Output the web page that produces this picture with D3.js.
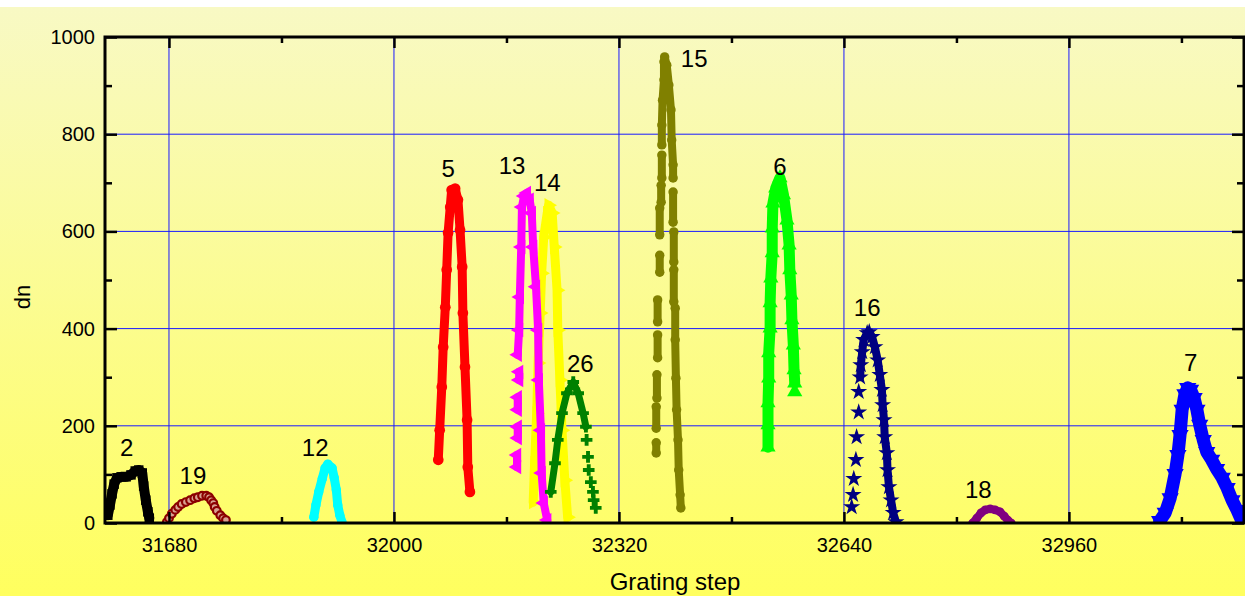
<!DOCTYPE html>
<html>
<head>
<meta charset="utf-8">
<script src="https://cdn.jsdelivr.net/npm/d3@7"></script>
<style>
  body { margin: 0; background: #fff; }
  text { font-family: Arial, "Liberation Sans", sans-serif; }
</style>
</head>
<body>
<svg id="chart"></svg>
<script>
var width = 1245;
var height = 596;

var margin = {top: 37, left: 105, right: 1, bottom: 73};

// peak data: [grating step, dn]
var s2 = [[31593,16],[31596,37],[31599,60],[31602,80],[31606,93],[31612,95],[31619,95],[31626,99],[31632,107],[31637,109],[31642,103],[31644,76],[31647,47],[31650,23],[31652,10]];
var s19 = [[31677,2],[31680,10],[31684,19],[31689,27],[31693,33],[31698,39],[31704,43],[31710,47],[31716,51],[31721,53],[31727,56],[31733,56],[31737,53],[31740,47],[31743,41],[31745,33],[31748,25],[31753,16],[31757,10],[31761,6]];
var s12 = [[31886,12],[31889,37],[31893,64],[31898,91],[31902,113],[31906,121],[31912,113],[31915,93],[31918,68],[31920,37],[31923,16],[31926,2]];
var s5 = [[32063,130],[32065,191],[32068,280],[32070,362],[32073,444],[32075,521],[32077,597],[32080,650],[32082,685],[32087,688],[32091,665],[32094,603],[32097,527],[32098,432],[32101,321],[32104,212],[32105,115],[32108,64]];
var s13 = [[32176,346],[32178,397],[32179,465],[32181,568],[32182,650],[32185,673],[32189,679],[32193,665],[32196,638],[32198,568],[32202,486],[32205,397],[32206,294],[32209,191],[32210,103],[32213,41],[32218,6]];
var s13dash = [[[32178,311],[32178,294]],[[32176,259],[32176,233]],[[32176,198],[32176,175]],[[32175,140],[32175,115]]];
var s14 = [[32198,43],[32200,123],[32203,226],[32205,329],[32208,432],[32210,514],[32213,588],[32218,638],[32220,654],[32225,638],[32228,568],[32232,479],[32233,397],[32236,294],[32239,191],[32243,88],[32247,12]];
var s26 = [[32223,64],[32229,123],[32233,171],[32239,226],[32246,267],[32255,290],[32262,267],[32269,226],[32273,198]];
var s26dots = [[32274,171],[32276,136],[32277,109],[32280,84],[32283,64],[32284,47],[32287,31]];
var s15top = [[32381,778],[32381,819],[32382,870],[32384,912],[32384,949],[32385,959],[32388,942],[32391,901],[32394,850],[32395,788],[32397,737],[32397,710]];
var s15low = [[32400,442],[32400,377],[32401,298],[32402,233],[32404,171],[32405,109],[32407,58],[32408,31]];
var s15bits = [[[32381,757],[32381,710]],[[32380,695],[32380,660]],[[32378,648],[32378,593]],[[32378,551],[32378,516]],[[32375,459],[32375,414]],[[32375,387],[32375,340]],[[32374,305],[32374,257]],[[32373,239],[32373,195]],[[32373,165],[32373,144]],
               [[32397,681],[32397,619]],[[32398,599],[32398,537]],[[32398,521],[32398,455]]];
var s6 = [[32532,156],[32532,202],[32532,247],[32533,298],[32533,350],[32535,401],[32535,453],[32536,504],[32538,556],[32538,607],[32539,658],[32543,689],[32549,710],[32554,675],[32559,623],[32562,572],[32563,521],[32565,469],[32566,418],[32568,366],[32569,315],[32570,288]];
var s6dots = [[32570,270]];
var s16 = [[32663,300],[32664,325],[32666,352],[32668,377],[32673,391],[32676,393],[32680,383],[32684,362],[32688,335],[32691,305],[32694,274],[32695,243],[32697,212],[32698,177],[32701,144],[32702,109],[32704,74],[32707,47],[32710,21],[32714,2]];
var s16dots = [[32661,270],[32661,228],[32658,177],[32657,130],[32654,91],[32653,58],[32651,33]];
var s18 = [[32823,0],[32829,10],[32835,21],[32841,27],[32848,29],[32855,27],[32862,23],[32868,14],[32873,6],[32878,0]];
var s7 = [[33089,4],[33097,21],[33104,51],[33111,101],[33115,140],[33118,181],[33121,233],[33125,265],[33129,278],[33133,274],[33138,257],[33142,233],[33146,202],[33151,171],[33156,146],[33163,130],[33170,111],[33178,93],[33185,72],[33192,47],[33199,27],[33206,4]];

var labelText = ["2","19","12","5","13","14","26","15","6","16","18","7"];
var labelX = [31620,31714,31888,32077,32168,32218,32265,32427,32549,32673,32831,33133];
var labelY = [156,97,156,730,735,700,329,957,733,444,70,331];

var xMajor = [31680, 32000, 32320, 32640, 32960];
var xMinor = [31840, 32160, 32480, 32800, 33120];
var yMajor = [0, 200, 400, 600, 800, 1000];
var yMinor = [100, 300, 500, 700, 900];

var series = [
  {traces: [s2], dots: [], color: "#000000", w: 10, sym: d3.symbolSquare, size: 90, rot: 0},
  {traces: [], dots: s19, color: "#8b0000", w: 0, sym: d3.symbolCircle, size: 46, rot: 0, open: "#d8a090"},
  {traces: [s12], dots: [], color: "#00ffff", w: 9, sym: d3.symbolCircle, size: 70, rot: 0},
  {traces: [s5], dots: [], color: "#ff0000", w: 9, sym: d3.symbolCircle, size: 90, rot: 0},
  {traces: [s14], dots: [], color: "#ffff00", w: 9, sym: d3.symbolTriangle, size: 90, rot: 90},
  {traces: [s13].concat(s13dash), dots: [], color: "#ff00ff", w: 8, sym: d3.symbolTriangle, size: 90, rot: -90},
  {traces: [s26], dots: s26dots, color: "#008000", w: 7, sym: d3.symbolCross, size: 75, rot: 0},
  {traces: [s15top, s15low].concat(s15bits), dots: [], color: "#808000", w: 8, sym: d3.symbolCircle, size: 70, rot: 0},
  {traces: [s6], dots: s6dots, color: "#00ff00", w: 11, sym: d3.symbolTriangle, size: 100, rot: 0},
  {traces: [s16], dots: s16dots, color: "#000080", w: 8, sym: d3.symbolStar, size: 90, rot: 0},
  {traces: [s18], dots: [], color: "#800080", w: 8, sym: d3.symbolCircle, size: 60, rot: 0},
  {traces: [s7], dots: [], color: "#0000ff", w: 13, sym: d3.symbolTriangle, size: 130, rot: 180}
];

var svg = d3.select("#chart").attr("width", width).attr("height", height);

var defs = svg.append("defs");
var grad = defs.append("linearGradient").attr("id", "bg")
  .attr("x1", 0).attr("y1", 0).attr("x2", 0).attr("y2", 1);
grad.append("stop").attr("offset", "0%").attr("stop-color", "#f8f9c4");
grad.append("stop").attr("offset", "100%").attr("stop-color", "#ffff5e");

svg.append("rect").attr("x", 0).attr("y", 7).attr("width", width).attr("height", height - 7)
  .attr("fill", "url(#bg)");

var x = d3.scaleLinear().domain([31589, 33209]).range([margin.left, width - margin.right]);
var y = d3.scaleLinear().domain([0, 1000]).range([height - margin.bottom, margin.top]);

defs.append("clipPath").attr("id", "clip").append("rect")
  .attr("x", margin.left).attr("y", margin.top)
  .attr("width", width - margin.right - margin.left)
  .attr("height", height - margin.bottom - margin.top);

// grid
var grid = svg.append("g").attr("stroke", "#1a1aff").attr("stroke-width", 1);
grid.selectAll("line.gx").data(xMajor).join("line")
  .attr("x1", d => x(d)).attr("x2", d => x(d))
  .attr("y1", y(1000)).attr("y2", y(0));
grid.selectAll("line.gy").data(yMajor.slice(1, -1)).join("line")
  .attr("y1", d => y(d)).attr("y2", d => y(d))
  .attr("x1", x.range()[0]).attr("x2", x.range()[1]);

// peaks
var plot = svg.append("g").attr("clip-path", "url(#clip)");
var line = d3.line().x(d => x(d[0])).y(d => y(d[1]));

series.forEach(function(s) {
  var g = plot.append("g");
  s.traces.forEach(function(tr) {
    g.append("path").datum(tr)
      .attr("d", line)
      .attr("fill", "none")
      .attr("stroke", s.color)
      .attr("stroke-width", s.w)
      .attr("stroke-linejoin", "round")
      .attr("stroke-linecap", "round");
  });
  var pts = [].concat.apply([], s.traces).concat(s.dots);
  g.selectAll("path.m").data(pts).join("path")
    .attr("class", "m")
    .attr("transform", d => `translate(${x(d[0])},${y(d[1])}) rotate(${s.rot})`)
    .attr("d", d3.symbol(s.sym, s.size))
    .attr("fill", s.open ? s.open : s.color)
    .attr("stroke", s.open ? s.color : "none")
    .attr("stroke-width", s.open ? 2.2 : 0);
});

// labels
svg.append("g").selectAll("text").data(labelText).join("text")
  .attr("x", (d, i) => x(labelX[i]))
  .attr("y", (d, i) => y(labelY[i]))
  .attr("text-anchor", "middle")
  .attr("dy", "0.36em")
  .attr("font-size", 24)
  .text(d => d);

// axes
function styleAxis(g) {
  g.select(".domain").remove();
  g.selectAll(".tick line").attr("stroke", "#000").attr("stroke-width", 2.5);
  g.selectAll(".tick text").attr("font-size", 20).attr("fill", "#000")
    .attr("font-family", "Arial, 'Liberation Sans', sans-serif");
}

var bottom = height - margin.bottom;
var right = width - margin.right;

svg.append("g").attr("transform", `translate(0,${bottom})`)
  .call(d3.axisBottom(x).tickValues(xMajor).tickFormat(d3.format("d")).tickSizeInner(-11).tickSizeOuter(0).tickPadding(15))
  .call(styleAxis);
svg.append("g").attr("transform", `translate(0,${bottom})`)
  .call(d3.axisBottom(x).tickValues(xMinor).tickFormat("").tickSizeInner(-6).tickSizeOuter(0))
  .call(styleAxis);
svg.append("g").attr("transform", `translate(0,${margin.top})`)
  .call(d3.axisTop(x).tickValues(xMajor).tickFormat("").tickSizeInner(-11).tickSizeOuter(0))
  .call(styleAxis);
svg.append("g").attr("transform", `translate(0,${margin.top})`)
  .call(d3.axisTop(x).tickValues(xMinor).tickFormat("").tickSizeInner(-6).tickSizeOuter(0))
  .call(styleAxis);

svg.append("g").attr("transform", `translate(${margin.left},0)`)
  .call(d3.axisLeft(y).tickValues(yMajor).tickFormat(d3.format("d")).tickSizeInner(-12).tickSizeOuter(0).tickPadding(10))
  .call(styleAxis);
svg.append("g").attr("transform", `translate(${margin.left},0)`)
  .call(d3.axisLeft(y).tickValues(yMinor).tickFormat("").tickSizeInner(-7).tickSizeOuter(0))
  .call(styleAxis);
svg.append("g").attr("transform", `translate(${right},0)`)
  .call(d3.axisRight(y).tickValues(yMajor).tickFormat("").tickSizeInner(-12).tickSizeOuter(0))
  .call(styleAxis);
svg.append("g").attr("transform", `translate(${right},0)`)
  .call(d3.axisRight(y).tickValues(yMinor).tickFormat("").tickSizeInner(-7).tickSizeOuter(0))
  .call(styleAxis);

// frame
svg.append("rect")
  .attr("x", margin.left).attr("y", margin.top)
  .attr("width", right - margin.left).attr("height", bottom - margin.top)
  .attr("fill", "none").attr("stroke", "#000").attr("stroke-width", 3);

// axis titles
svg.append("text")
  .attr("x", 675).attr("y", 590)
  .attr("text-anchor", "middle")
  .attr("font-size", 24)
  .text("Grating step");

svg.append("text")
  .attr("transform", "translate(30,297) rotate(-90)")
  .attr("text-anchor", "middle")
  .attr("font-size", 22)
  .text("dn");
</script>
</body>
</html>
